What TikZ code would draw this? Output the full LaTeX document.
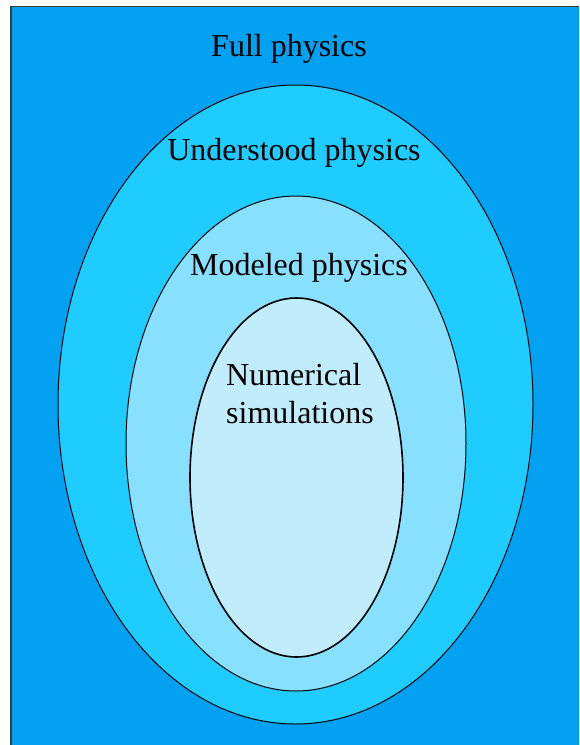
\documentclass[tikz,border=0pt]{standalone}
\usepackage{fontspec}
\setmainfont{Liberation Serif}
\usetikzlibrary{shapes.geometric}
\definecolor{bgblue}{RGB}{2,161,241}
\definecolor{outerblue}{RGB}{30,204,255}
\definecolor{midblue}{RGB}{136,224,255}
\definecolor{innerblue}{RGB}{192,236,252}
\definecolor{frameline}{RGB}{60,60,60}
\tikzset{
  ring/.style={draw=black, line width=1pt},
  label/.style={font=\fontsize{32}{38}\selectfont, text=black, align=center, inner sep=0pt}
}
\begin{document}
\begin{tikzpicture}[x=1pt,y=-1pt]
\useasboundingbox (0,0) rectangle (579,745);
\fill[white] (0,0) rectangle (579,745);
\fill[bgblue] (11,6) rectangle (579,745);
\draw[frameline, line width=1.5pt] (11,745) -- (11,6.5) -- (579,6.5);
\node[ellipse, ring, fill=outerblue, minimum width=475, minimum height=639, inner sep=0pt] (outer) at (295.5,404.5) {};
\node[ellipse, ring, fill=midblue, minimum width=340, minimum height=495, inner sep=0pt] (mid) at (296,443.5) {};
\node[ellipse, ring, line width=1.6pt, fill=innerblue, minimum width=213, minimum height=359, inner sep=0pt] (inner) at (296.5,477.5) {};
\node[label] (full) at (289,49) {Full physics};
\node[label] (und) at (294,153) {Understood physics};
\node[label] (mod) at (299,268) {Modeled physics};
\node[label, align=left] (num) at (300,394) {Numerical\\simulations};
\end{tikzpicture}
\end{document}
